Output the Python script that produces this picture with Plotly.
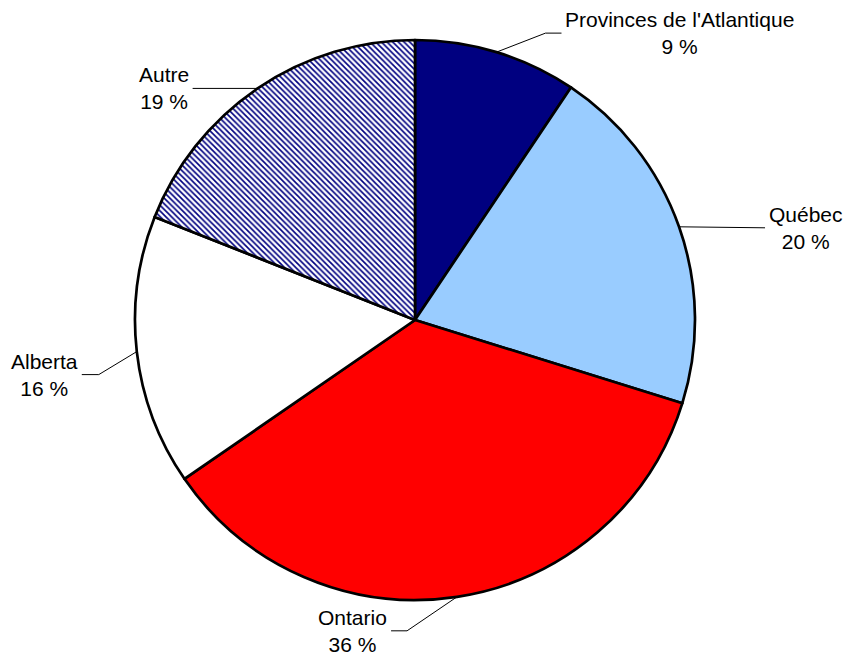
import math
import plotly.graph_objects as go

# ---- data ----
regions = ["Provinces de l'Atlantique", "Québec", "Ontario", "Alberta", "Autre"]
shares = [9.4, 20.4, 35.6, 15.6, 19.0]
colors = ["#000080", "#99CCFF", "#FF0000", "#FFFFFF", "#FFFFFF"]
patterns = ["", "", "", "", "\\"]

# ---- layout constants (pixels) ----
W, H = 847, 658
CX, CY, R = 415, 320, 280
# label leader geometry relative to slice edge point: (elbow dx, dy, end dx, dy, side)
leaders = [
    (49, -19, 65, -19, "left"),
    (86, 1, 86, 1, "left"),
    (-50, 34, -66, 34, "right"),
    (-38, 23, -55, 23, "right"),
    (-65, 0, -65, 0, "right"),
]

def px(x):
    return x / W

def py(y):
    return 1 - y / H

fig = go.Figure(go.Pie(
    labels=regions,
    values=shares,
    sort=False,
    direction="clockwise",
    rotation=0,
    textinfo="none",
    hoverinfo="label+percent",
    marker=dict(
        colors=colors,
        line=dict(color="black", width=2.7),
        pattern=dict(shape=patterns, fgcolor="#000080", bgcolor="white",
                     size=4, solidity=0.4),
    ),
    domain=dict(x=[px(CX - R), px(CX + R)], y=[py(CY + R), py(CY - R)]),
    showlegend=False,
))

total = sum(shares)
cum = 0.0
shapes = []
annotations = []
for name, v, (ex, ey, tx, ty, side) in zip(regions, shares, leaders):
    mid = (cum + v / 2) / total
    cum += v
    th = 2 * math.pi * mid
    x0 = CX + R * math.sin(th)
    y0 = CY - R * math.cos(th)
    x1, y1 = x0 + ex, y0 + ey
    x2, y2 = x0 + tx, y0 + ty
    shapes.append(dict(type="path", xref="paper", yref="paper",
                       path=f"M {px(x0)} {py(y0)} L {px(x1)} {py(y1)} L {px(x2)} {py(y2)}",
                       line=dict(color="black", width=1)))
    pct = f"{round(v / total * 100)} %"
    annotations.append(dict(
        x=px(x2 + (2 if side == "left" else -2)), y=py(y2),
        xref="paper", yref="paper",
        xanchor=side, yanchor="middle",
        text=f"{name}<br>{pct}", showarrow=False, align="center",
        font=dict(family="Liberation Sans, Arial, sans-serif", size=21, color="black"),
    ))

fig.update_layout(
    width=W, height=H,
    margin=dict(l=0, r=0, t=0, b=0),
    paper_bgcolor="white", plot_bgcolor="white",
    shapes=shapes,
    annotations=annotations,
)

fig.write_html("out.html", config={"displayModeBar": False},
               post_script="document.body.style.margin='0';")
